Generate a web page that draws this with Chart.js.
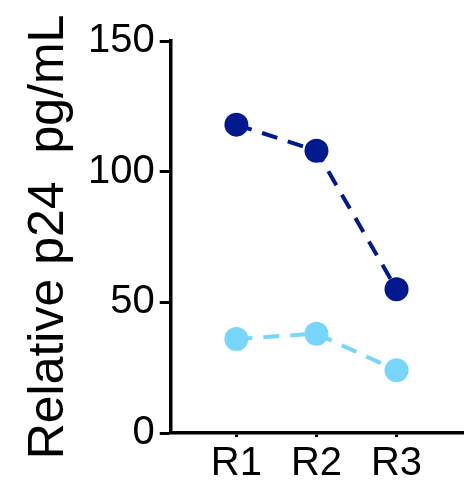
<!DOCTYPE html>
<html>
<head>
<meta charset="utf-8">
<script src="https://cdn.jsdelivr.net/npm/chart.js@4/dist/chart.umd.min.js"></script>
<style>
  html, body { margin: 0; padding: 0; background: #fff; }
  #wrap { width: 475px; height: 497px; position: relative; }
</style>
</head>
<body>
<div id="wrap"><canvas id="chart"></canvas></div>
<script>
const categories = ['R1', 'R2', 'R3'];
const darkValues = [118, 108, 55];
const lightValues = [36, 38, 24];
const yTicks = [0, 50, 100, 150];
const yTitle = 'Relative p24  pg/mL';

const font = '"Liberation Sans", Arial, sans-serif';

const toPoints = (vals) => vals.map((v, i) => ({ x: i + 1, y: v }));

const ctx = document.getElementById('chart').getContext('2d');
new Chart(ctx, {
  type: 'line',
  data: {
    datasets: [
      {
        data: toPoints(darkValues),
        borderColor: '#00198c',
        backgroundColor: '#00198c',
        borderWidth: 4,
        borderDash: [16, 11],
        pointRadius: 12,
        pointBorderWidth: 0,
        fill: false
      },
      {
        data: toPoints(lightValues),
        borderColor: '#78d5fc',
        backgroundColor: '#78d5fc',
        borderWidth: 4,
        borderDash: [16, 11],
        pointRadius: 12,
        pointBorderWidth: 0,
        fill: false
      }
    ]
  },
  options: {
    responsive: true,
    maintainAspectRatio: false,
    animation: false,
    layout: { padding: { top: 41, right: 12, bottom: 6, left: 19 } },
    plugins: {
      legend: { display: false },
      tooltip: { enabled: false }
    },
    scales: {
      x: {
        type: 'linear',
        min: 0.18,
        max: 3.83,
        afterBuildTicks: (scale) => {
          scale.ticks = categories.map((c, i) => ({ value: i + 1 }));
        },
        ticks: {
          color: '#000',
          font: { family: font, size: 40 },
          padding: 3,
          maxRotation: 0,
          callback: (v) => categories[v - 1]
        },
        grid: {
          drawOnChartArea: false,
          drawTicks: true,
          tickLength: 4,
          tickColor: '#000',
          tickWidth: 3
        },
        border: { display: true, color: '#000', width: 3.5 }
      },
      y: {
        min: 0,
        max: 150,
        afterBuildTicks: (scale) => {
          scale.ticks = yTicks.map((v) => ({ value: v }));
        },
        ticks: {
          color: '#000',
          font: { family: font, size: 40 },
          padding: 5
        },
        grid: {
          drawOnChartArea: false,
          drawTicks: true,
          tickLength: 11,
          tickColor: '#000',
          tickWidth: 3
        },
        border: { display: true, color: '#000', width: 3.5 },
        title: {
          display: true,
          text: yTitle,
          color: '#000',
          font: { family: font, size: 50 },
          padding: { top: 0, bottom: 4 }
        }
      }
    }
  }
});
</script>
</body>
</html>
